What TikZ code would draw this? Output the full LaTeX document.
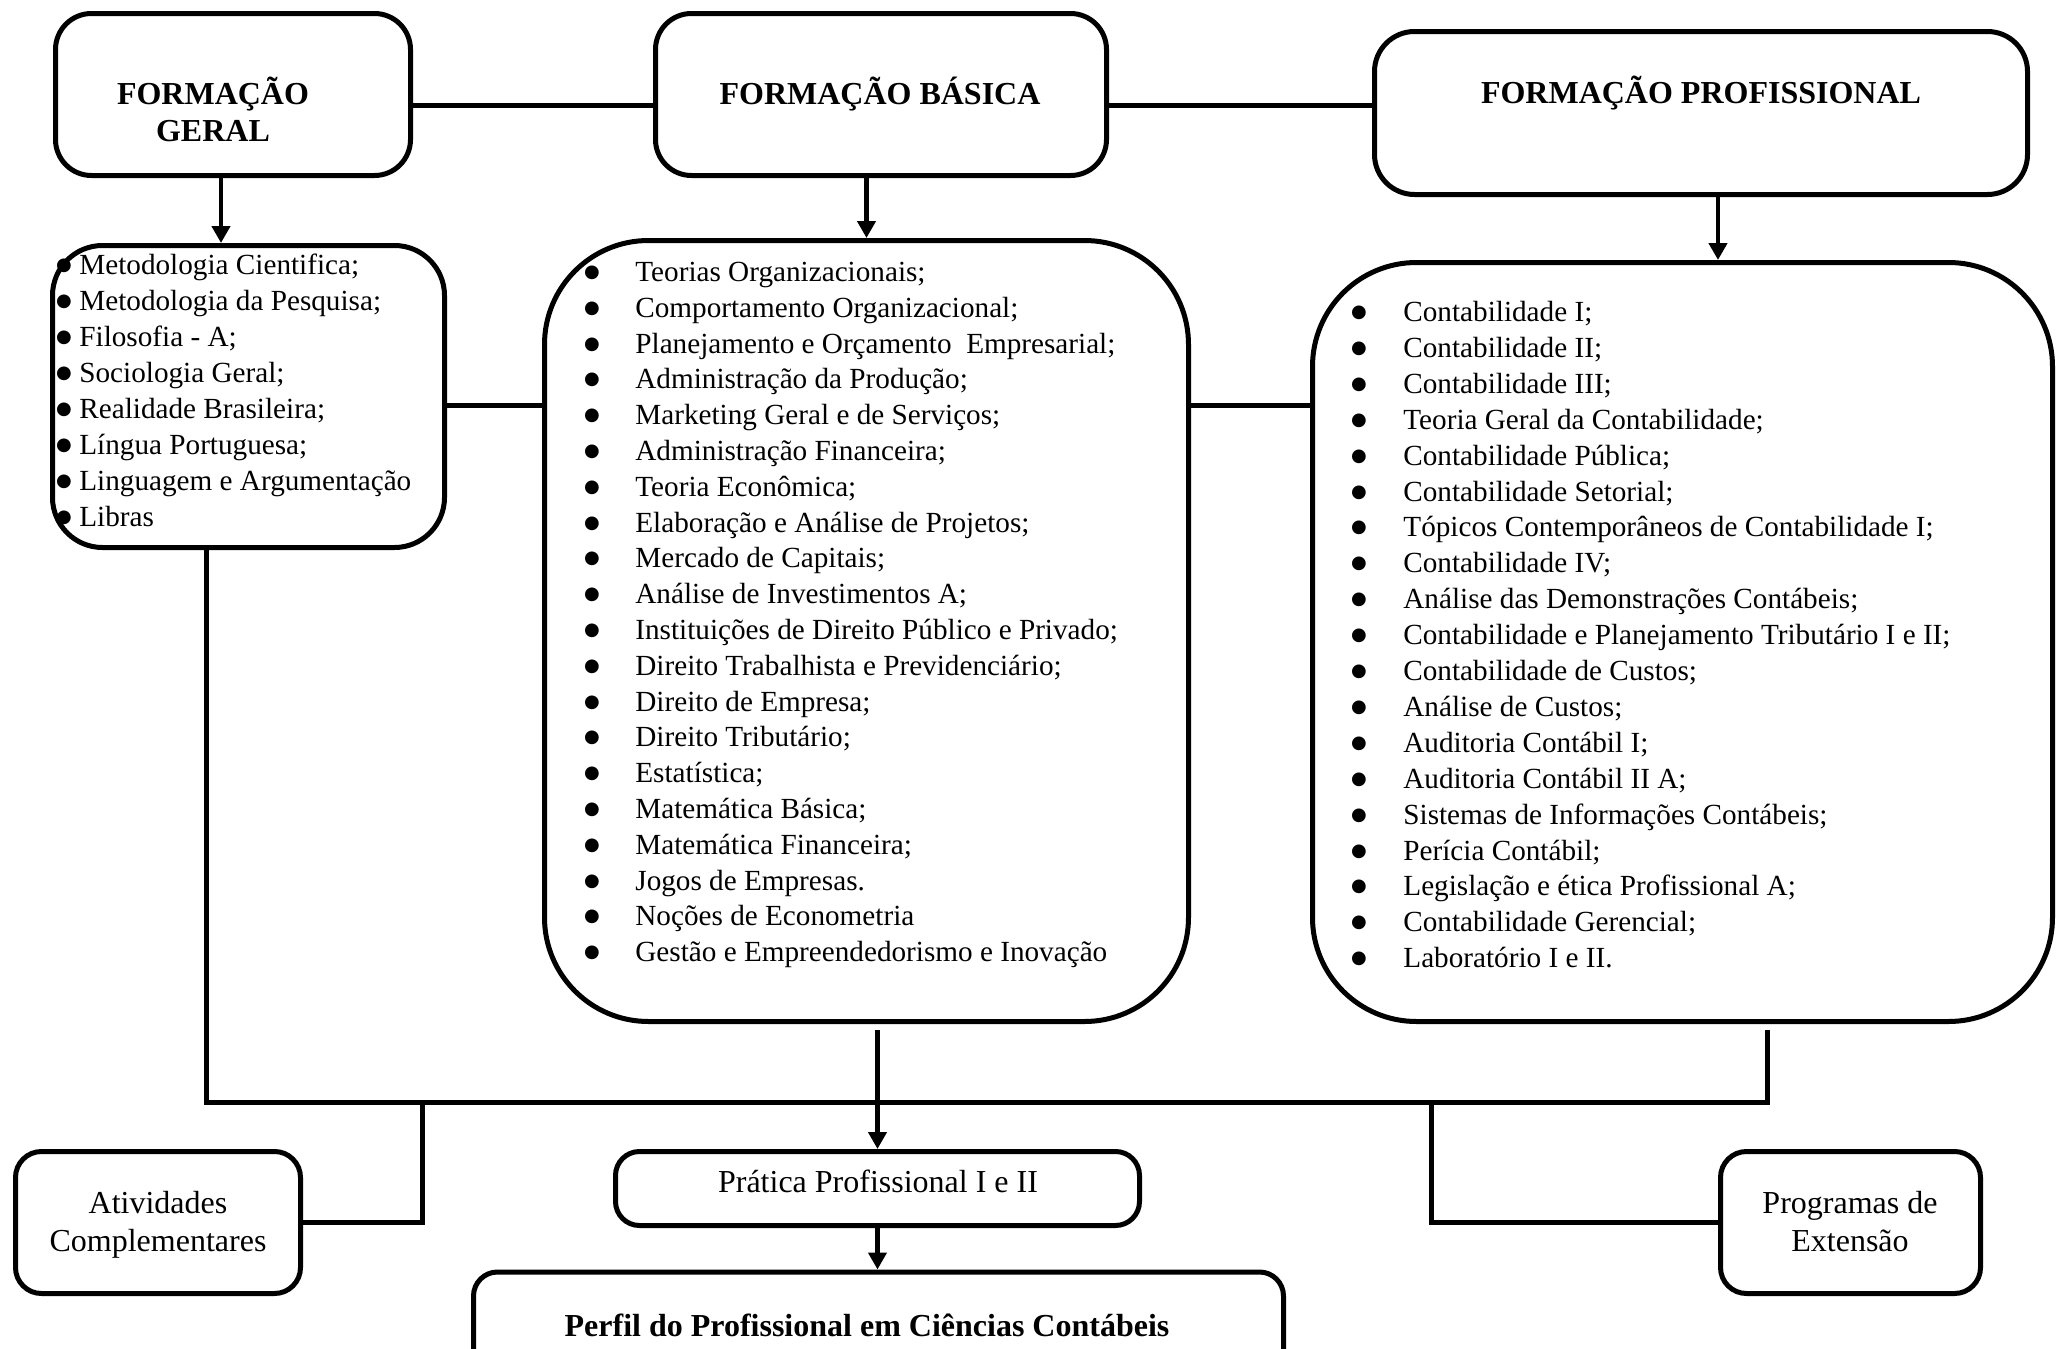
\documentclass[tikz,border=0pt]{standalone}
\usepackage{fontspec}
\setmainfont{Liberation Serif}
\newfontfamily\bulfont{DejaVu Sans}
\usetikzlibrary{arrows.meta}
\begin{document}
\begin{tikzpicture}[x=0.5pt,y=-0.5pt,
  box/.style={draw, line width=2.5pt, rounded corners=#1, inner sep=0pt},
  conn/.style={line width=2.5pt},
  arr/.style={line width=2.2pt, -{Triangle[width=9pt,length=8.5pt]}},
  itm/.style={anchor=base west, inner sep=0pt, font=\fontsize{14.6pt}{17.95pt}\selectfont},
  bul/.style={anchor=base, inner sep=0pt, font=\fontsize{9pt}{9pt}\bulfont},
  hdr/.style={anchor=base, inner sep=0pt, font=\fontsize{16pt}{19pt}\selectfont\bfseries},
  lbl/.style={anchor=base, inner sep=0pt, font=\fontsize{16pt}{19pt}\selectfont}]
\useasboundingbox (0,0) rectangle (2063,1349);
\clip (0,0) rectangle (2063,1349);

% boxes
\node[box=18pt, minimum width=177.5pt, minimum height=81pt] (fgh) at (233,94.5) {};
\node[box=18pt, minimum width=225.5pt, minimum height=81pt] (fbh) at (881,94.5) {};
\node[box=20pt, minimum width=326.5pt, minimum height=81.5pt] (fph) at (1701,113) {};
\node[box=25pt, minimum width=196pt, minimum height=151pt] (fgl) at (248.5,396.5) {};
\node[box=52pt, minimum width=322pt, minimum height=390.5pt] (fbl) at (866.5,631) {};
\node[box=52pt, minimum width=370pt, minimum height=379.5pt] (fpl) at (1682.5,642) {};
\node[box=13pt, minimum width=142.5pt, minimum height=71pt] (atv) at (158,1222.5) {};
\node[box=12pt, minimum width=262pt, minimum height=37pt] (pr) at (877.5,1188.5) {};
\node[box=12pt, minimum width=405pt, minimum height=64pt] (pe) at (878.5,1336) {};
\node[box=13pt, minimum width=130pt, minimum height=71pt] (pg) at (1850.5,1222.5) {};

% titles and labels
\node[hdr] (fgt1) at (213,104) {FORMAÇÃO};
\node[hdr] (fgt2) at (213,141) {GERAL};
\node[hdr] (fbt) at (880,104) {FORMAÇÃO BÁSICA};
\node[hdr] (fpt) at (1701,103) {FORMAÇÃO PROFISSIONAL};
\node[lbl] (prt) at (878,1192) {Prática Profissional I e II};
\node[hdr] (pet) at (867,1336) {Perfil do Profissional em Ciências Contábeis};
\node[lbl] (atv1) at (158,1213) {Atividades};
\node[lbl] (atv2) at (158,1251) {Complementares};
\node[lbl] (pg1) at (1850,1213) {Programas de};
\node[lbl] (pg2) at (1850,1251) {Extensão};

% lists
\foreach \t [count=\i from 0] in {{Metodologia Cientifica;},{Metodologia da Pesquisa;},{Filosofia - A;},{Sociologia Geral;},{Realidade Brasileira;},{Língua Portuguesa;},{Linguagem e Argumentação},{Libras}}{
  \node[bul] (fgb\i) at (64,{270+36*\i}) {●};
  \node[itm] (fgi\i) at (79,{274+36*\i}) {\t};
}
\foreach \t [count=\i from 0] in {{Teorias Organizacionais;},{Comportamento Organizacional;},{Planejamento e Orçamento~ Empresarial;},{Administração da Produção;},{Marketing Geral e de Serviços;},{Administração Financeira;},{Teoria Econômica;},{Elaboração e Análise de Projetos;},{Mercado de Capitais;},{Análise de Investimentos A;},{Instituições de Direito Público e Privado;},{Direito Trabalhista e Previdenciário;},{Direito de Empresa;},{Direito Tributário;},{Estatística;},{Matemática Básica;},{Matemática Financeira;},{Jogos de Empresas.},{Noções de Econometria},{Gestão e Empreendedorismo e Inovação}}{
  \node[bul] (fbb\i) at (592,{277.5+35.8*\i}) {●};
  \node[itm] (fbi\i) at (635,{281.5+35.8*\i}) {\t};
}
\foreach \t [count=\i from 0] in {{Contabilidade I;},{Contabilidade II;},{Contabilidade III;},{Teoria Geral da Contabilidade;},{Contabilidade Pública;},{Contabilidade Setorial;},{Tópicos Contemporâneos de Contabilidade I;},{Contabilidade IV;},{Análise das Demonstrações Contábeis;},{Contabilidade e Planejamento Tributário I e II;},{Contabilidade de Custos;},{Análise de Custos;},{Auditoria Contábil I;},{Auditoria Contábil II A;},{Sistemas de Informações Contábeis;},{Perícia Contábil;},{Legislação e ética Profissional A;},{Contabilidade Gerencial;},{Laboratório I e II.}}{
  \node[bul] (fpb\i) at (1359,{317.5+35.9*\i}) {●};
  \node[itm] (fpi\i) at (1403,{321.5+35.9*\i}) {\t};
}

% connectors
\coordinate (hy) at (0,105);
\coordinate (ly) at (0,405);
\draw[conn] (fgh.east |- hy) -- (fbh.west |- hy);
\draw[conn] (fbh.east |- hy) -- (fph.west |- hy);
\draw[conn] (fgl.east |- ly) -- (fbl.west |- ly);
\draw[conn] (fbl.east |- ly) -- (fpl.west |- ly);

\coordinate (a1) at (221,0);
\coordinate (a3) at (1718,0);
\draw[arr] (fgh.south -| a1) -- (fgl.north -| a1);
\draw[arr] (fbl.north |- fbh.south) -- (fbl.north);
\draw[arr] (fph.south -| a3) -- (fpl.north -| a3);

\coordinate (bus) at (0,1102);
\coordinate (lx) at (206,0);
\coordinate (rx) at (1767,0);
\coordinate (blx) at (422,0);
\coordinate (brx) at (1431,0);
\coordinate (fpo) at ([yshift=-3pt]fpl.south);
\coordinate (fbo) at ([yshift=-3pt]fbl.south);
\draw[conn] (fgl.south -| lx) -- (bus -| lx) -- (bus -| rx) -- (fpo -| rx);
\draw[conn] (bus -| blx) |- (atv.east);
\draw[conn] (bus -| brx) |- (pg.west);
\draw[arr] (fbo -| pr.north) -- (pr.north);
\draw[arr] (pr.south) -- (pe.north -| pr.south);
\end{tikzpicture}
\end{document}
